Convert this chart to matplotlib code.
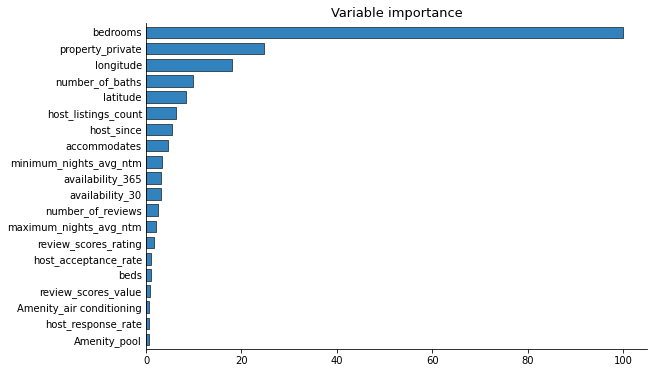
import matplotlib
matplotlib.use("Agg")
import matplotlib.pyplot as plt

features = [
    "bedrooms", "property_private", "longitude", "number_of_baths", "latitude",
    "host_listings_count", "host_since", "accommodates", "minimum_nights_avg_ntm",
    "availability_365", "availability_30", "number_of_reviews",
    "maximum_nights_avg_ntm", "review_scores_rating", "host_acceptance_rate",
    "beds", "review_scores_value", "Amenity_air conditioning",
    "host_response_rate", "Amenity_pool",
]
importance = [
    100, 24.7, 18.1, 9.9, 8.4,
    6.3, 5.5, 4.7, 3.4,
    3.2, 3.1, 2.6,
    2.2, 1.7, 1.1,
    1.1, 0.9, 0.7,
    0.7, 0.7,
]

def main():
    fig, ax = plt.subplots(figsize=(654 / 72, 373 / 72), dpi=72)
    fig.subplots_adjust(left=146 / 654, right=647 / 654, top=1 - 23 / 373, bottom=1 - 349 / 373)
    pos = range(len(features))
    ax.barh(pos, importance, height=0.72, color="#3182bd", edgecolor="#263238", linewidth=0.8)
    ax.set_yticks(list(pos))
    ax.set_yticklabels(features)
    ax.tick_params(axis="y", length=0, pad=4)
    ax.set_ylim(len(features) - 0.42, -0.58)
    ax.set_title("Variable importance", fontsize=13)
    ax.spines["top"].set_visible(False)
    ax.spines["right"].set_visible(False)
    fig.savefig("out.png", dpi=72)

if __name__ == "__main__":
    main()
